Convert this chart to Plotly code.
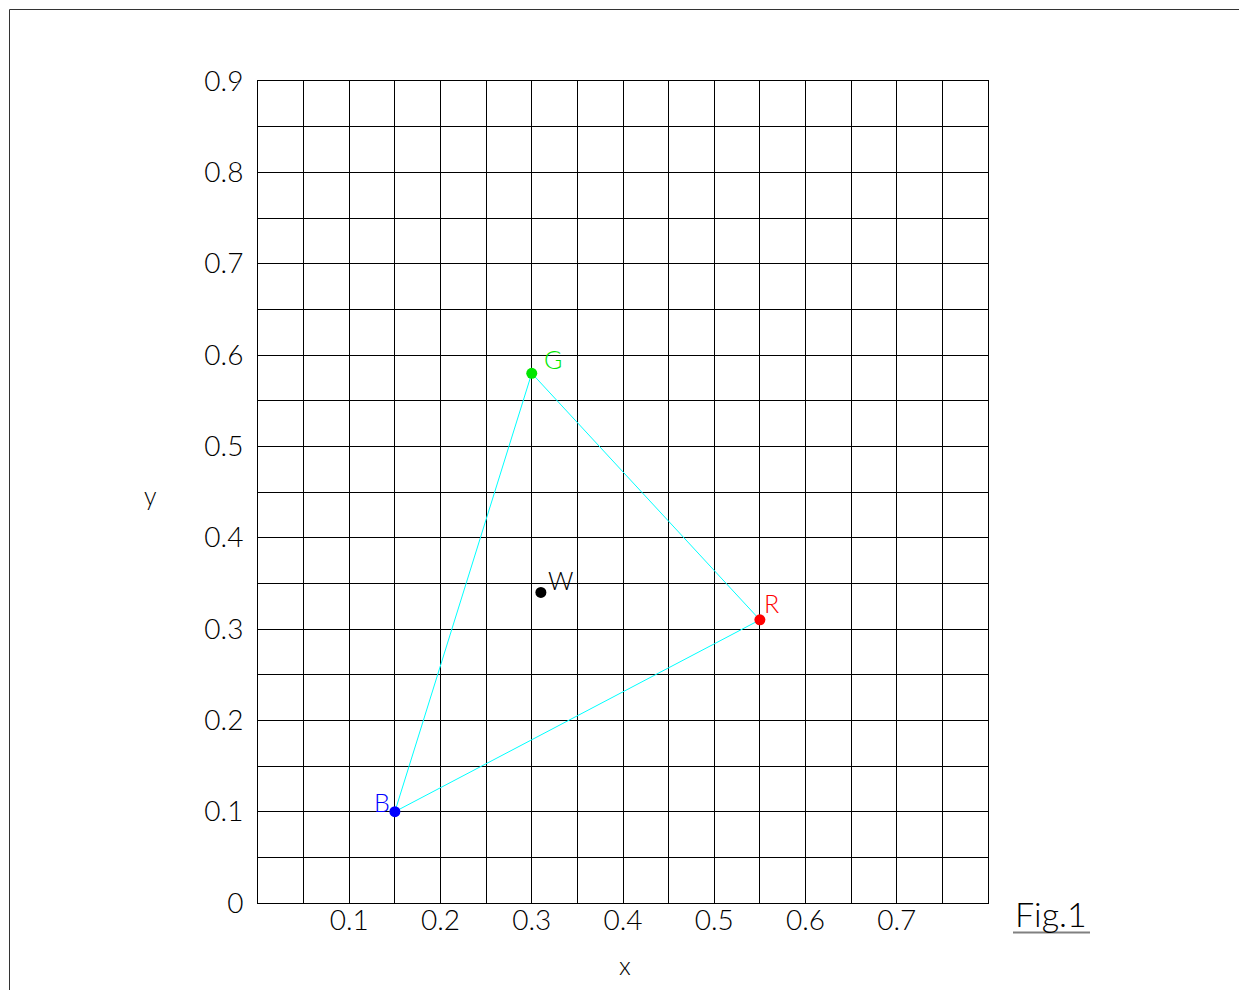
import plotly.graph_objects as go

# Primaries and white point (CIE x, y)
names = ["R", "G", "B"]
px = [0.55, 0.30, 0.15]
py = [0.31, 0.58, 0.10]
colors = ["#ff0000", "#00e600", "#0000ff"]
white_x = [0.31]
white_y = [0.34]

x_labels = [0.1, 0.2, 0.3, 0.4, 0.5, 0.6, 0.7]
y_labels = [0, 0.1, 0.2, 0.3, 0.4, 0.5, 0.6, 0.7, 0.8, 0.9]
grid_step = 0.05

W, H = 1247, 990
OFF = 8  # page body margin
# plot area in page pixels
PL, PR, PT, PB = 258, 988, 81, 903
L, R, T, B = PL - OFF, PR - OFF, PT - OFF, PB - OFF


def pxp(xpage):
    return (xpage - PL) / (PR - PL)


def pyp(ypage):
    return (PB - ypage) / (PB - PT)


font_family = "Lato"
fig = go.Figure()

# triangle
fig.add_trace(go.Scatter(x=px + [px[0]], y=py + [py[0]], mode="lines",
                         line=dict(color="#00ffff", width=1), hoverinfo="skip", showlegend=False))
# primaries
fig.add_trace(go.Scatter(x=px, y=py, mode="markers",
                         marker=dict(color=colors, size=11), showlegend=False))
fig.add_trace(go.Scatter(x=white_x, y=white_y, mode="markers",
                         marker=dict(color="black", size=11), showlegend=False))

offsets = {"R": (12, -17), "G": (21, -14), "B": (-13, -10)}
for n, x, y, c in zip(names, px, py, colors):
    dx, dy = offsets[n]
    fig.add_annotation(x=x, y=y, text=n, showarrow=False, xref="x", yref="y",
                       xanchor="center", yanchor="middle",
                       xshift=dx, yshift=-dy, font=dict(family=font_family, size=25, color=c, weight=300))
fig.add_annotation(x=white_x[0], y=white_y[0], text="W", showarrow=False,
                   xanchor="center", yanchor="middle",
                   xshift=20, yshift=12, font=dict(family=font_family, size=25, color="black", weight=300))


def gridvals(vmax):
    n = int(round(vmax / grid_step))
    return [round(i * grid_step, 2) for i in range(n + 1)]


xg = gridvals(0.8)
yg = gridvals(0.9)
xt = [("%g" % v if any(abs(v - l) < 1e-9 for l in x_labels) else "") for v in xg]
yt = [("%g" % v if any(abs(v - l) < 1e-9 for l in y_labels) else "") for v in yg]

tickfont = dict(family=font_family, size=28, color="black", weight=300)
fig.update_xaxes(range=[0, 0.8], tickvals=xg, ticktext=xt, showgrid=True, gridcolor="black",
                 gridwidth=1, zeroline=False, showline=True, linecolor="black", mirror=True,
                 ticks="", tickfont=tickfont, ticklabelstandoff=-8)
fig.update_yaxes(range=[0, 0.9], tickvals=yg, ticktext=yt, showgrid=True, gridcolor="black",
                 gridwidth=1, zeroline=False, showline=True, linecolor="black", mirror=True,
                 ticks="", tickfont=tickfont, ticklabelstandoff=8)

# axis titles
fig.add_annotation(text="x", xref="paper", yref="paper", x=pxp(625), y=pyp(965),
                   xanchor="center", yanchor="middle",
                   showarrow=False, font=dict(family=font_family, size=25, color="black", weight=300))
fig.add_annotation(text="y", xref="paper", yref="paper", x=pxp(150), y=pyp(495),
                   xanchor="center", yanchor="middle",
                   showarrow=False, font=dict(family=font_family, size=25, color="black", weight=300))
# Fig.1
fig.add_annotation(text="Fig.1", xref="paper", yref="paper", x=pxp(1051), y=pyp(914),
                   xanchor="center", yanchor="middle",
                   showarrow=False, font=dict(family=font_family, size=34, color="black", weight=300))
fig.add_shape(type="line", xref="paper", yref="paper",
              x0=pxp(1013), x1=pxp(1090), y0=pyp(932.5), y1=pyp(932.5),
              line=dict(color="#808080", width=2))
# outer frame
fig.add_shape(type="rect", xref="paper", yref="paper",
              x0=pxp(9.5), x1=pxp(1300), y0=pyp(1050), y1=pyp(9.5),
              line=dict(color="#333333", width=1), layer="below")

fig.update_layout(width=W, height=H, margin=dict(l=L, r=W - R, t=T, b=H - B),
                  plot_bgcolor="white", paper_bgcolor="white", showlegend=False)
fig.write_html("out.html")
